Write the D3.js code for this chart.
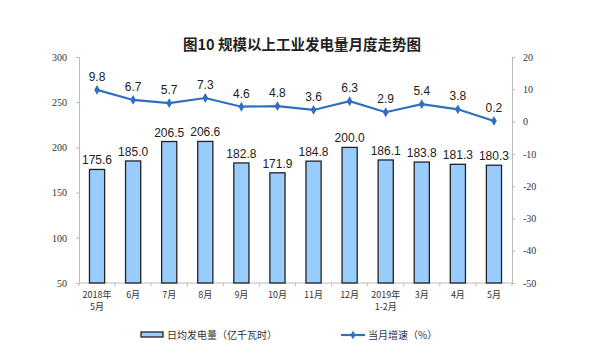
<!DOCTYPE html>
<html><head><meta charset="utf-8">
<script src="https://cdn.jsdelivr.net/npm/d3@7"></script>
<style>body{margin:0;background:#fff}</style>
</head><body>
<svg id="c" width="590" height="360"></svg>
<script>
const categories = [["2018年","5月"],["6月"],["7月"],["8月"],["9月"],["10月"],["11月"],["12月"],["2019年","1-2月"],["3月"],["4月"],["5月"]];
const output = [175.6,185.0,206.5,206.6,182.8,171.9,184.8,200.0,186.1,183.8,181.3,180.3];
const growth = [9.8,6.7,5.7,7.3,4.6,4.8,3.6,6.3,2.9,5.4,3.8,0.2];
const leftTicks = [50,100,150,200,250,300];
const rightTicks = [-50,-40,-30,-20,-10,0,10,20];

const svg = d3.select("#c");
const L=79,R=512,T=57,B=283;
const x = d3.scaleBand().domain(d3.range(categories.length)).range([L,R]).paddingInner(0.58).paddingOuter(0.29);
const yL = d3.scaleLinear().domain([50,300]).range([B,T]);
const yR = d3.scaleLinear().domain([-50,20]).range([B,T]);
const serif = "'Liberation Serif','DejaVu Serif',serif";
const sans = "'Liberation Sans',Arial,sans-serif";
const cjk = "'Noto Sans CJK SC',sans-serif";

svg.append("text").attr("x",302).attr("y",50).attr("text-anchor","middle")
  .attr("font-family",cjk).attr("font-size",14.5).attr("font-weight","bold").attr("fill","#222")
  .text("图10 规模以上工业发电量月度走势图");

// left axis
const gL = svg.append("g").attr("transform",`translate(${L},0)`)
  .call(d3.axisLeft(yL).tickValues(leftTicks).tickSize(3).tickPadding(9));
gL.select(".domain").attr("stroke","#bbb");
gL.selectAll(".tick line").attr("stroke","#bbb");
gL.selectAll("text").attr("font-family",serif).attr("font-size",10).attr("fill","#333");

const gR = svg.append("g").attr("transform",`translate(${R},0)`)
  .call(d3.axisRight(yR).tickValues(rightTicks).tickSize(3).tickPadding(8).tickFormat(d=>String(d)));
gR.select(".domain").attr("stroke","#bbb");
gR.selectAll(".tick line").attr("stroke","#bbb");
gR.selectAll("text").attr("font-family",serif).attr("font-size",10).attr("fill","#333");

// bottom axis
const step = x.step();
const gB = svg.append("g").attr("transform",`translate(0,${B})`);
gB.append("line").attr("x1",L).attr("x2",R).attr("stroke","#bbb");
gB.selectAll("line.t").data(d3.range(categories.length+1)).enter().append("line")
  .attr("x1",i=>L+i*step).attr("x2",i=>L+i*step).attr("y1",0).attr("y2",3).attr("stroke","#bbb");
categories.forEach((d,i)=>{
  d.forEach((s,j)=>{
    gB.append("text").attr("text-anchor","middle").attr("font-family",cjk).attr("font-size",9).attr("fill","#333")
      .attr("x",x(i)+x.bandwidth()/2).attr("y",15+j*12).text(s);
  });
});

// bars
svg.selectAll("rect.b").data(output).enter().append("rect")
  .attr("x",(d,i)=>x(i)).attr("width",x.bandwidth())
  .attr("y",d=>yL(d)).attr("height",d=>B-yL(d))
  .attr("fill","#99ccff").attr("stroke","#222").attr("stroke-width",1.3);
svg.selectAll("text.bv").data(output).enter().append("text")
  .attr("x",(d,i)=>x(i)+x.bandwidth()/2).attr("y",d=>yL(d)-5)
  .attr("text-anchor","middle").attr("font-family",sans).attr("font-size",12).attr("fill","#222")
  .text(d=>d.toFixed(1));

// line
const cx = i=>x(i)+x.bandwidth()/2;
svg.append("path").datum(growth)
  .attr("d",d3.line().x((d,i)=>cx(i)).y(d=>yR(d)))
  .attr("fill","none").attr("stroke","#2e6fc0").attr("stroke-width",2.2);
svg.selectAll("path.m").data(growth).enter().append("path")
  .attr("d",d3.symbol(d3.symbolDiamond,28))
  .attr("transform",(d,i)=>`translate(${cx(i)},${yR(d)})`).attr("fill","#2e6fc0");
svg.selectAll("text.lv").data(growth).enter().append("text")
  .attr("x",(d,i)=>cx(i)).attr("y",d=>yR(d)-9)
  .attr("text-anchor","middle").attr("font-family",sans).attr("font-size",12).attr("fill","#222")
  .text(d=>d.toFixed(1));

// legend
const lg = svg.append("g").attr("transform","translate(0,335)");
lg.append("rect").attr("x",141).attr("y",-3).attr("width",22).attr("height",5)
  .attr("fill","#99ccff").attr("stroke","#222").attr("stroke-width",1.3);
lg.append("text").attr("x",167).attr("y",4).attr("font-family",cjk).attr("font-size",10).attr("fill","#333")
  .text("日均发电量（亿千瓦时）");
lg.append("line").attr("x1",341).attr("x2",365).attr("stroke","#2e6fc0").attr("stroke-width",2.2);
lg.append("path").attr("d",d3.symbol(d3.symbolDiamond,22)).attr("transform","translate(353,0)").attr("fill","#2e6fc0");
lg.append("text").attr("x",368).attr("y",4).attr("font-family",cjk).attr("font-size",10).attr("fill","#333")
  .text("当月增速（%）");
</script>
</body></html>
